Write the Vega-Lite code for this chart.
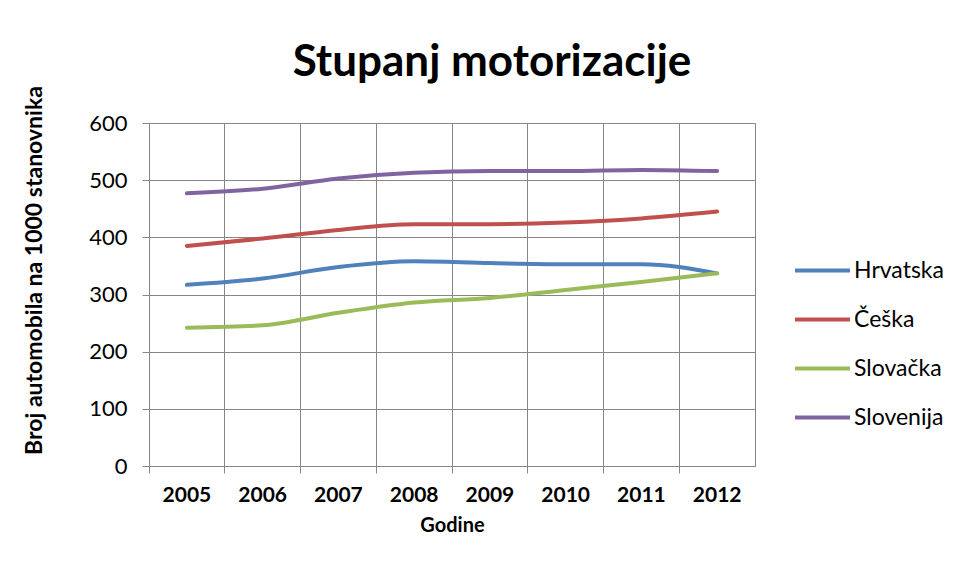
{
  "$schema": "https://vega.github.io/schema/vega-lite/v6.json",
  "width": 606,
  "height": 343,
  "autosize": {"type": "none"},
  "padding": {"left": 149, "top": 123, "right": 215, "bottom": 121},
  "background": "white",
  "title": {
    "text": "Stupanj motorizacije",
    "font": "Lato",
    "fontSize": 44,
    "fontWeight": "bold",
    "color": "#000000",
    "anchor": "middle",
    "frame": "group",
    "baseline": "bottom",
    "offset": -46,
    "dx": 40
  },
  "data": {
    "values": [
      {"year": "2005", "country": "Hrvatska", "value": 317},
      {"year": "2006", "country": "Hrvatska", "value": 328},
      {"year": "2007", "country": "Hrvatska", "value": 348},
      {"year": "2008", "country": "Hrvatska", "value": 358},
      {"year": "2009", "country": "Hrvatska", "value": 355},
      {"year": "2010", "country": "Hrvatska", "value": 353},
      {"year": "2011", "country": "Hrvatska", "value": 353},
      {"year": "2012", "country": "Hrvatska", "value": 337},
      {"year": "2005", "country": "Češka", "value": 385},
      {"year": "2006", "country": "Češka", "value": 398},
      {"year": "2007", "country": "Češka", "value": 413},
      {"year": "2008", "country": "Češka", "value": 423},
      {"year": "2009", "country": "Češka", "value": 423},
      {"year": "2010", "country": "Češka", "value": 426},
      {"year": "2011", "country": "Češka", "value": 433},
      {"year": "2012", "country": "Češka", "value": 445},
      {"year": "2005", "country": "Slovačka", "value": 242},
      {"year": "2006", "country": "Slovačka", "value": 246},
      {"year": "2007", "country": "Slovačka", "value": 268},
      {"year": "2008", "country": "Slovačka", "value": 286},
      {"year": "2009", "country": "Slovačka", "value": 294},
      {"year": "2010", "country": "Slovačka", "value": 308},
      {"year": "2011", "country": "Slovačka", "value": 322},
      {"year": "2012", "country": "Slovačka", "value": 337},
      {"year": "2005", "country": "Slovenija", "value": 477},
      {"year": "2006", "country": "Slovenija", "value": 485},
      {"year": "2007", "country": "Slovenija", "value": 503},
      {"year": "2008", "country": "Slovenija", "value": 513},
      {"year": "2009", "country": "Slovenija", "value": 516},
      {"year": "2010", "country": "Slovenija", "value": 516},
      {"year": "2011", "country": "Slovenija", "value": 518},
      {"year": "2012", "country": "Slovenija", "value": 516}
    ]
  },
  "mark": {"type": "line", "strokeWidth": 4, "interpolate": "monotone", "strokeCap": "round"},
  "encoding": {
    "x": {
      "field": "year",
      "type": "ordinal",
      "scale": {"type": "band", "paddingInner": 0, "paddingOuter": 0},
      "axis": {
        "title": "Godine",
        "bandPosition": 0,
        "labelAngle": 0,
        "labelFont": "Lato",
        "labelFontSize": 21,
        "labelFontWeight": "bold",
        "labelColor": "#000000",
        "labelPadding": 11,
        "titleFont": "Lato",
        "titleFontSize": 20,
        "titleFontWeight": "bold",
        "titleColor": "#000000",
        "titlePadding": 10,
        "grid": true,
        "gridColor": "#868686",
        "gridOpacity": 1,
        "tickColor": "#868686",
        "tickSize": 7,
        "domainColor": "#868686"
      }
    },
    "y": {
      "field": "value",
      "type": "quantitative",
      "scale": {"domain": [0, 600], "nice": false},
      "axis": {
        "title": "Broj  automobila na 1000 stanovnika",
        "titleY": 147,
        "values": [0, 100, 200, 300, 400, 500, 600],
        "labelFont": "Lato",
        "labelFontSize": 22,
        "labelColor": "#000000",
        "labelPadding": 15,
        "titleFont": "Lato",
        "titleFontSize": 23,
        "titleFontWeight": "bold",
        "titleColor": "#000000",
        "titlePadding": 42,
        "grid": true,
        "gridColor": "#868686",
        "gridOpacity": 1,
        "tickColor": "#868686",
        "tickSize": 7,
        "domainColor": "#868686"
      }
    },
    "color": {
      "field": "country",
      "type": "nominal",
      "sort": ["Hrvatska", "Češka", "Slovačka", "Slovenija"],
      "scale": {
        "domain": ["Hrvatska", "Češka", "Slovačka", "Slovenija"],
        "range": ["#4F81BD", "#C0504D", "#9BBB59", "#8064A2"]
      },
      "legend": {
        "title": null,
        "orient": "none",
        "legendX": 644,
        "legendY": 118,
        "symbolType": "stroke",
        "symbolSize": 3025,
        "symbolStrokeWidth": 4,
        "labelFont": "Lato",
        "labelFontSize": 23,
        "labelColor": "#000000",
        "labelOffset": 2,
        "rowPadding": 7
      }
    }
  },
  "config": {
    "view": {"stroke": "#868686", "strokeWidth": 1},
    "axis": {"gridWidth": 1, "tickWidth": 1, "domainWidth": 1}
  }
}
